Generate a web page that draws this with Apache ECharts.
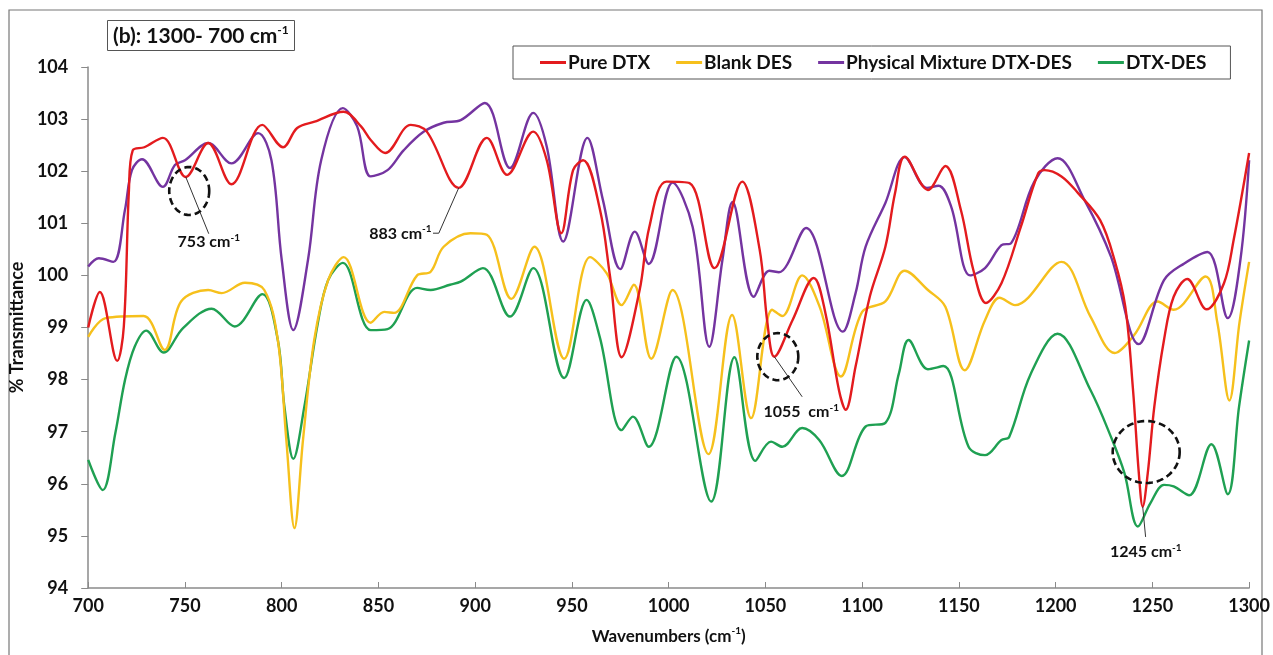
<!DOCTYPE html>
<html><head><meta charset="utf-8">
<script src="https://cdn.jsdelivr.net/npm/echarts@6/dist/echarts.min.js"></script>
<style>html,body{margin:0;padding:0;background:#fff;}#c{width:1273px;height:655px;}</style>
</head><body><div id="c"></div>
<script>
// ---------------- DATA ----------------
const seriesNames = ['Pure DTX', 'Blank DES', 'Physical Mixture DTX-DES', 'DTX-DES'];

const pureX = [700,706,715,718.4,721,723,729,738.6,750.4,762,774,790,800.7,808,817,832,841,846,853.5,866.7,875,891.5,906,916.5,930,937,944.5,950.6,955.8,964.5,969.7,975.7,985,990,998.8,1010.8,1023.7,1038,1047,1051,1054.6,1064,1075,1081,1088,1091.5,1096.6,1104,1112,1117,1122,1134,1143,1151,1157.5,1164,1172,1182,1191,1194.4,1203,1211.6,1223,1230.4,1236,1240,1243,1245,1247.6,1251,1256,1261,1268,1278,1287,1292,1300];
const pureY = [99.0,99.68,98.36,99.02,101.6,102.4,102.46,102.64,101.89,102.54,101.75,102.89,102.46,102.83,102.95,103.14,102.86,102.6,102.35,102.89,102.76,101.68,102.64,101.93,102.76,102.21,100.81,102.02,102.21,101.26,99.98,98.43,99.72,100.93,101.8,101.77,100.14,101.8,100.5,99.1,98.44,99.14,99.95,99.28,97.8,97.42,98.25,99.6,100.55,101.58,102.28,101.64,102.1,101.26,100.1,99.47,99.85,100.93,101.96,102.02,101.9,101.58,101.06,100.3,99.4,97.8,96.2,95.56,96.2,97.48,98.76,99.59,99.93,99.35,99.85,100.68,102.35];

const blankX = [700,709,728.6,739.5,748,762,769,781,791,798,802.4,806.6,811,816.8,824,832,846,853,858,870,877,883.7,897.6,906,918.7,930.6,946,959.4,968,975.7,982,991,1002,1020.6,1032.8,1042.6,1053.5,1058.7,1069,1078,1089,1100,1112,1122,1134,1143,1153,1163.5,1171,1179,1203,1218,1230.5,1240.7,1252.7,1261,1277.5,1283.6,1289.8,1295,1300];
const blankY = [98.82,99.18,99.22,98.57,99.5,99.72,99.66,99.86,99.72,98.76,96.84,95.15,96.84,98.76,99.91,100.35,99.09,99.3,99.28,100.0,100.07,100.55,100.81,100.78,99.55,100.55,98.4,100.35,100.04,99.43,99.82,98.4,99.72,96.57,99.24,97.26,99.34,99.22,100.0,99.4,98.06,99.3,99.5,100.09,99.72,99.4,98.18,99.14,99.57,99.43,100.26,99.21,98.51,98.86,99.5,99.34,99.98,99.09,97.6,99.09,100.26];

const physX = [700,705.5,713,719,722.6,727.8,738.6,744.8,750,762,774,787.8,794.7,800,806,813.6,820.4,831.6,839,846,854.7,863,873.5,883.7,892.5,905,918,930,937,945.5,958,966,975,982.5,989.7,1002,1012.4,1021,1027.8,1033,1044,1052,1057,1071,1090,1096.6,1101.8,1112,1122,1133.5,1139.5,1146,1155.8,1163.5,1172,1177,1189,1201,1215,1228.6,1243,1256,1266.5,1278.5,1289,1295.5,1300];
const physY = [100.17,100.33,100.26,101.26,102.02,102.23,101.7,102.12,102.21,102.54,102.15,102.73,102.21,100.3,98.95,100.3,102.21,103.21,102.86,101.9,102.02,102.4,102.76,102.93,102.98,103.31,102.06,103.12,102.47,100.65,102.64,101.45,100.12,100.84,100.22,101.78,100.93,98.63,100.3,101.41,99.59,100.09,100.06,100.91,98.92,99.66,100.55,101.39,102.27,101.68,101.72,101.32,100.0,100.14,100.58,100.62,101.8,102.25,101.44,100.36,98.68,99.91,100.23,100.45,99.18,100.3,102.21];

const desX = [700,707.5,714,719,724,730,739,749,763.8,775.7,790,798,801.4,806,811.7,818.7,824,831.6,846,854.7,870,877,887,892.5,904,918,930,946,957.6,964.5,975.7,981.5,989.7,1004,1022,1034,1044.8,1052.9,1058.7,1069,1077.8,1089.5,1101.8,1112,1119,1124,1134,1142,1155,1163.5,1172,1176,1187,1201,1218,1228.6,1235.6,1242.5,1249,1256,1261,1269,1280.5,1289,1294.8,1300];
const desY = [96.46,95.88,96.97,97.99,98.63,98.94,98.52,98.99,99.36,99.02,99.64,98.76,97.48,96.48,97.48,99.09,99.91,100.24,98.95,98.97,99.76,99.72,99.82,99.88,100.14,99.21,100.14,98.03,99.53,98.8,97.03,97.29,96.71,98.44,95.66,98.43,96.44,96.81,96.71,97.07,96.84,96.15,97.1,97.17,98.12,98.76,98.2,98.26,96.71,96.55,96.84,96.9,98.1,98.88,97.8,96.9,96.2,95.18,95.63,95.98,95.95,95.78,96.76,95.8,97.48,98.75];

const xMin = 700, xMax = 1300, xStep = 50;
const yMin = 94, yMax = 104, yStep = 1;

// annotation anchors in data units
const annText = ['753 cm', '883 cm', '1055  cm', '1245 cm'];
const annTextPos = [[762.3, 100.64], [877.5, 100.8], [1068.5, 97.38], [1246.6, 94.69]];
const annLead = [
  [[750.4, 101.89], [762.3, 100.8]],
  [[891.5, 101.68], [881.2, 100.81], [878.2, 100.81]],
  [[1054.6, 98.44], [1069, 97.67]],
  [[1245, 95.56], [1246.5, 94.98]]
];
const annCircle = [[752.2, 101.62], [1056.4, 98.44], [1246.8, 96.61]];

// ---------------- STYLE ----------------
const colors = ['#E31B1E', '#F6C01C', '#7434A0', '#1FA052'];
const FONT = 'Lato, "Open Sans", sans-serif';
const circleR = [[20, 24], [20.5, 23.5], [33.5, 31]];

const zip = (xs, ys) => xs.map((x, i) => [x, ys[i]]);
const dataSets = [zip(pureX, pureY), zip(blankX, blankY), zip(physX, physY), zip(desX, desY)];

const chart = echarts.init(document.getElementById('c'), null, {renderer: 'canvas'});

const option = {
  animation: false,
  backgroundColor: '#fff',
  title: {
    text: '{m|(b): 1300- 700 cm}{s|-1}',
    left: 107, top: 20,
    padding: [4, 6, 4, 6],
    borderColor: '#555', borderWidth: 1,
    textStyle: {
      rich: {
        m: {fontFamily: FONT, fontWeight: 'bold', fontSize: 21, color: '#111', lineHeight: 25},
        s: {fontFamily: FONT, fontWeight: 'bold', fontSize: 12, color: '#111', verticalAlign: 'top', lineHeight: 25, padding: [0, 0, 10, 0]}
      }
    }
  },
  legend: {
    data: seriesNames,
    left: 513, top: 46,
    padding: [7, 24, 7, 27],
    itemGap: 26,
    itemWidth: 26, itemHeight: 3,
    icon: 'rect',
    borderColor: '#555', borderWidth: 1,
    textStyle: {fontFamily: FONT, fontWeight: 'bold', fontSize: 19, color: '#111', padding: [0, 0, 0, -3]}
  },
  grid: {left: 86, right: 21, top: 67, bottom: 67, containLabel: false},
  xAxis: {
    type: 'value', min: xMin, max: xMax, interval: xStep,
    name: '{m|Wavenumbers (cm}{s|-1}{m|)}',
    nameLocation: 'middle', nameGap: 38,
    nameTextStyle: {
      rich: {
        m: {fontFamily: FONT, fontWeight: 'bold', fontSize: 17, color: '#111', lineHeight: 22},
        s: {fontFamily: FONT, fontWeight: 'bold', fontSize: 10, color: '#111', verticalAlign: 'top', lineHeight: 22}
      }
    },
    axisLine: {show: true, lineStyle: {color: '#8a8a8a', width: 1.5}},
    axisTick: {show: true, inside: true, length: 6, lineStyle: {color: '#8a8a8a'}},
    axisLabel: {margin: 9, fontFamily: FONT, fontWeight: 'bold', fontSize: 18, color: '#111', formatter: v => String(v)},
    splitLine: {show: false}
  },
  yAxis: {
    type: 'value', min: yMin, max: yMax, interval: yStep,
    name: '% Transmittance',
    nameLocation: 'middle', nameGap: 58, nameRotate: 90,
    nameTextStyle: {fontFamily: FONT, fontWeight: 'bold', fontSize: 18, color: '#111'},
    axisLine: {show: true, lineStyle: {color: '#8a8a8a', width: 1.5}},
    axisTick: {show: true, inside: false, length: 7, lineStyle: {color: '#8a8a8a'}},
    axisLabel: {margin: 20, fontFamily: FONT, fontWeight: 'bold', fontSize: 18, color: '#111', formatter: v => String(v)},
    splitLine: {show: false}
  },
  series: seriesNames.map((n, i) => ({
    name: n, type: 'line', data: dataSets[i],
    smooth: 0.35, showSymbol: false, symbol: 'none',
    lineStyle: {color: colors[i], width: 2.4},
    itemStyle: {color: colors[i]},
    z: [5, 3, 4, 2][i]
  }))
};
chart.setOption(option);

// ---------------- ANNOTATIONS ----------------
const toPx = p => chart.convertToPixel({xAxisIndex: 0, yAxisIndex: 0}, p);
const els = [];
els.push({type: 'rect', shape: {x: 9, y: 10, width: 1253, height: 700}, style: {fill: 'none', stroke: '#777', lineWidth: 1.2}, silent: true});
annLead.forEach(pts => {
  els.push({type: 'polyline', shape: {points: pts.map(toPx)}, style: {stroke: '#333', lineWidth: 1, fill: 'none'}, z: 10});
});
annCircle.forEach((c, i) => {
  const [cx, cy] = toPx(c);
  const [rx, ry] = circleR[i];
  const pts = [];
  for (let k = 0; k < 72; k++) {
    const t = k / 72 * Math.PI * 2;
    pts.push([cx + rx * Math.cos(t), cy + ry * Math.sin(t)]);
  }
  els.push({type: 'polygon', shape: {points: pts}, style: {fill: 'none', stroke: '#111', lineWidth: 2.6, lineDash: [7, 4]}, z: 10});
});
annText.forEach((t, i) => {
  const [x, y] = toPx(annTextPos[i]);
  els.push({
    type: 'text', x: x, y: y, z: 10,
    style: {
      text: '{m|' + t + '}{s|-1}',
      align: i === 1 ? 'right' : 'center', verticalAlign: 'middle',
      rich: {
        m: {fontFamily: FONT, fontWeight: 'bold', fontSize: 16, fill: '#111', lineHeight: 19},
        s: {fontFamily: FONT, fontWeight: 'bold', fontSize: 10, fill: '#111', verticalAlign: 'top', lineHeight: 19, padding: [0, 0, 8, 0]}
      }
    }
  });
});
chart.setOption({graphic: {elements: els}});
</script>
</body></html>
